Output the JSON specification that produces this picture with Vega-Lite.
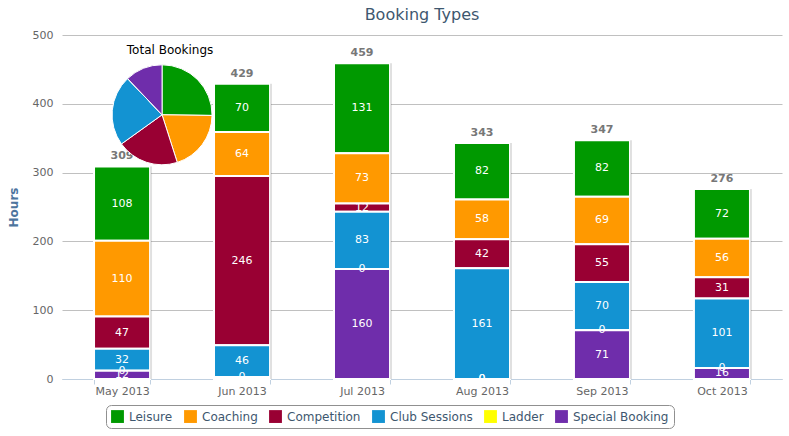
{
  "$schema": "https://vega.github.io/schema/vega-lite/v6.json",
  "width": 720,
  "height": 344,
  "autosize": "none",
  "padding": {"left": 62, "top": 35, "right": 7, "bottom": 57},
  "background": "white",
  "title": {"text": "Booking Types", "font": "DejaVu Sans", "fontSize": 16, "fontWeight": "normal", "color": "#3E576F", "offset": 6},
  "config": {"view": {"stroke": null}, "font": "DejaVu Sans"},
  "datasets": {
    "bookings": [
      {"month": "May 2013", "type": "Leisure", "hours": 108},
      {"month": "May 2013", "type": "Coaching", "hours": 110},
      {"month": "May 2013", "type": "Competition", "hours": 47},
      {"month": "May 2013", "type": "Club Sessions", "hours": 32},
      {"month": "May 2013", "type": "Ladder", "hours": 0},
      {"month": "May 2013", "type": "Special Booking", "hours": 12},
      {"month": "Jun 2013", "type": "Leisure", "hours": 70},
      {"month": "Jun 2013", "type": "Coaching", "hours": 64},
      {"month": "Jun 2013", "type": "Competition", "hours": 246},
      {"month": "Jun 2013", "type": "Club Sessions", "hours": 46},
      {"month": "Jun 2013", "type": "Ladder", "hours": 0},
      {"month": "Jun 2013", "type": "Special Booking", "hours": 3},
      {"month": "Jul 2013", "type": "Leisure", "hours": 131},
      {"month": "Jul 2013", "type": "Coaching", "hours": 73},
      {"month": "Jul 2013", "type": "Competition", "hours": 12},
      {"month": "Jul 2013", "type": "Club Sessions", "hours": 83},
      {"month": "Jul 2013", "type": "Ladder", "hours": 0},
      {"month": "Jul 2013", "type": "Special Booking", "hours": 160},
      {"month": "Aug 2013", "type": "Leisure", "hours": 82},
      {"month": "Aug 2013", "type": "Coaching", "hours": 58},
      {"month": "Aug 2013", "type": "Competition", "hours": 42},
      {"month": "Aug 2013", "type": "Club Sessions", "hours": 161},
      {"month": "Aug 2013", "type": "Ladder", "hours": 0},
      {"month": "Aug 2013", "type": "Special Booking", "hours": 0},
      {"month": "Sep 2013", "type": "Leisure", "hours": 82},
      {"month": "Sep 2013", "type": "Coaching", "hours": 69},
      {"month": "Sep 2013", "type": "Competition", "hours": 55},
      {"month": "Sep 2013", "type": "Club Sessions", "hours": 70},
      {"month": "Sep 2013", "type": "Ladder", "hours": 0},
      {"month": "Sep 2013", "type": "Special Booking", "hours": 71},
      {"month": "Oct 2013", "type": "Leisure", "hours": 72},
      {"month": "Oct 2013", "type": "Coaching", "hours": 56},
      {"month": "Oct 2013", "type": "Competition", "hours": 31},
      {"month": "Oct 2013", "type": "Club Sessions", "hours": 101},
      {"month": "Oct 2013", "type": "Ladder", "hours": 0},
      {"month": "Oct 2013", "type": "Special Booking", "hours": 16}
    ],
    "inset": [{"label": "Total Bookings"}]
  },
  "data": {"name": "bookings"},
  "transform": [
    {"calculate": "indexof(['Special Booking','Ladder','Club Sessions','Competition','Coaching','Leisure'], datum.type)", "as": "ord"}
  ],
  "layer": [
    {
      "transform": [
        {"stack": "hours", "groupby": ["month"], "sort": [{"field": "ord", "order": "ascending"}], "as": ["y0", "y1"]}
      ],
      "mark": {"type": "bar", "stroke": "white", "strokeWidth": 2},
      "encoding": {
        "x": {
          "field": "month", "type": "ordinal",
          "sort": ["May 2013", "Jun 2013", "Jul 2013", "Aug 2013", "Sep 2013", "Oct 2013"],
          "scale": {"paddingInner": 0.533, "paddingOuter": 0.267},
          "title": null,
          "axis": {"labelAngle": 0, "labelAlign": "center", "labelFontSize": 11, "labelColor": "#666666", "labelPadding": 1, "domainColor": "#C0D0E0", "tickColor": "#C0D0E0", "tickSize": 5, "tickBand": "extent", "grid": false}
        },
        "y": {
          "field": "y0", "type": "quantitative",
          "scale": {"domain": [0, 500]},
          "title": "Hours",
          "axis": {"values": [0, 100, 200, 300, 400, 500], "titleFontSize": 12, "titleFontWeight": "bold", "titleColor": "#4D759E", "titlePadding": 12, "labelFontSize": 11, "labelColor": "#666666", "labelPadding": 9, "ticks": false, "domain": false, "gridColor": "#C0C0C0"}
        },
        "y2": {"field": "y1"},
        "color": {
          "field": "type", "type": "nominal",
          "scale": {
            "domain": ["Leisure", "Coaching", "Competition", "Club Sessions", "Ladder", "Special Booking"],
            "range": ["#009900", "#FF9900", "#990033", "#1393D2", "#FFFF00", "#6F2DAB"]
          },
          "legend": {
            "orient": "none", "legendX": 44, "legendY": 370, "direction": "horizontal", "title": null,
            "symbolType": "square", "symbolSize": 165, "symbolStrokeWidth": 0, "symbolOpacity": 1,
            "labelFontSize": 12, "labelColor": "#3E576F", "labelOffset": 5, "columnPadding": 11,
            "strokeColor": "#909090", "cornerRadius": 5, "padding": 5
          }
        }
      }
    },
    {
      "transform": [
        {"aggregate": [{"op": "sum", "field": "hours", "as": "total"}], "groupby": ["month"]}
      ],
      "mark": {"type": "rule", "color": "#000000", "opacity": 0.12, "strokeWidth": 2, "xOffset": 29},
      "encoding": {
        "x": {"field": "month", "type": "ordinal", "sort": ["May 2013", "Jun 2013", "Jul 2013", "Aug 2013", "Sep 2013", "Oct 2013"], "title": null},
        "y": {"field": "total", "type": "quantitative", "title": "Hours"},
        "y2": {"datum": 0}
      }
    },
    {
      "transform": [
        {"stack": "hours", "groupby": ["month"], "sort": [{"field": "ord", "order": "ascending"}], "as": ["y0", "y1"]},
        {"calculate": "(datum.y0 + datum.y1) / 2", "as": "mid"},
        {"filter": "datum.hours == 0 || datum.hours >= 10"}
      ],
      "mark": {"type": "text", "color": "white", "fontSize": 11, "baseline": "middle", "clip": true},
      "encoding": {
        "x": {"field": "month", "type": "ordinal", "sort": ["May 2013", "Jun 2013", "Jul 2013", "Aug 2013", "Sep 2013", "Oct 2013"], "title": null},
        "y": {"field": "mid", "type": "quantitative", "title": "Hours"},
        "text": {"field": "hours", "type": "quantitative"}
      }
    },
    {
      "transform": [
        {"aggregate": [{"op": "sum", "field": "hours", "as": "total"}], "groupby": ["month"]}
      ],
      "mark": {"type": "text", "color": "#777777", "fontSize": 11, "fontWeight": "bold", "baseline": "bottom", "dy": -5},
      "encoding": {
        "x": {"field": "month", "type": "ordinal", "sort": ["May 2013", "Jun 2013", "Jul 2013", "Aug 2013", "Sep 2013", "Oct 2013"], "title": null},
        "y": {"field": "total", "type": "quantitative", "title": "Hours"},
        "text": {"field": "total", "type": "quantitative"}
      }
    },
    {
      "data": {"name": "inset"},
      "mark": {"type": "point", "shape": "circle", "filled": true, "color": "#000000", "opacity": 0.12, "size": 8500, "xOffset": 1, "yOffset": 1},
      "encoding": {
        "x": {"datum": "May 2013", "type": "ordinal", "bandPosition": 1.214},
        "y": {"datum": 384, "type": "quantitative", "title": "Hours"}
      }
    },
    {
      "transform": [
        {"aggregate": [{"op": "sum", "field": "hours", "as": "total"}], "groupby": ["type", "ord"]}
      ],
      "mark": {"type": "arc", "outerRadius": 50, "stroke": "white", "strokeWidth": 1},
      "encoding": {
        "x": {"datum": "May 2013", "type": "ordinal", "bandPosition": 1.214},
        "y": {"datum": 384, "type": "quantitative", "title": "Hours"},
        "theta": {"field": "total", "type": "quantitative", "stack": true},
        "order": {"field": "ord", "sort": "descending"},
        "color": {"field": "type", "type": "nominal"}
      }
    },
    {
      "data": {"name": "inset"},
      "mark": {"type": "text", "color": "#000000", "fontSize": 12, "baseline": "middle"},
      "encoding": {
        "x": {"datum": "May 2013", "type": "ordinal", "bandPosition": 1.357},
        "y": {"datum": 478, "type": "quantitative", "title": "Hours"},
        "text": {"field": "label"}
      }
    }
  ]
}
